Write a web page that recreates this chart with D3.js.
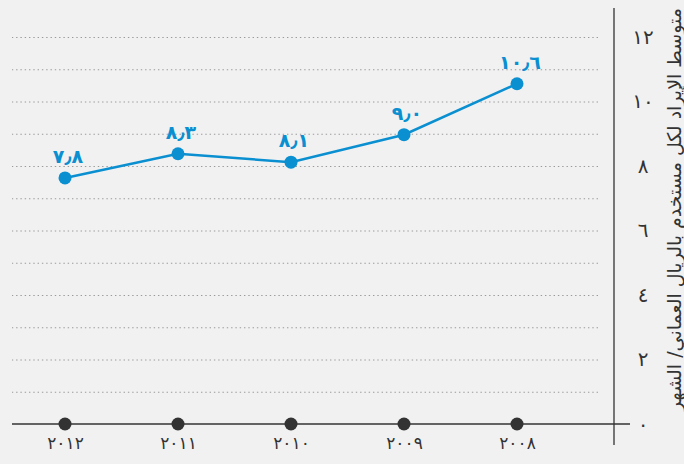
<!DOCTYPE html>
<html lang="ar">
<head>
<meta charset="UTF-8">
<title>متوسط الإيراد لكل مستخدم</title>
<style>
  html, body { margin: 0; height: 100%; background: #f1f1f1; }
  svg { display: block; }
  text { font-family: 'DejaVu Sans', sans-serif; }
  .grid line { stroke: #9a9a9a; stroke-dasharray: 1.4, 2.9; }
  .grid path { display: none; }
</style>
</head>
<body>
<svg id="chart" width="684" height="464" viewBox="0 0 684 464"></svg>
<script src="https://d3js.org/d3.v7.min.js"></script>
<script>
// data
const years = [2012, 2011, 2010, 2009, 2008];
const values = [7.63, 8.38, 8.12, 8.97, 10.55];
const valueLabels = ["٧٫٨", "٨٫٣", "٨٫١", "٩٫٠", "١٠٫٦"];
const yTicks = [0, 2, 4, 6, 8, 10, 12];
const gridTicks = [1, 2, 3, 4, 5, 6, 7, 8, 9, 10, 11, 12];
const yTitle = "متوسط الإيراد لكل مستخدم بالريال العماني/ الشهر";

const arDigits = "٠١٢٣٤٥٦٧٨٩";
const toArabic = s => String(s).replace(/[0-9]/g, d => arDigits[+d]);

const svg = d3.select("#chart");
const x = d3.scaleLinear().domain([2012, 2008]).range([65, 517]);
const y = d3.scaleLinear().domain([0, 12]).range([424, 37]);

const blue = "#0a8fd1", dark = "#333";

// dotted grid
svg.append("g")
  .attr("class", "grid")
  .attr("transform", "translate(598,0)")
  .call(d3.axisLeft(y).tickValues(gridTicks).tickSize(586).tickFormat(""));

// vertical axis line
svg.append("line")
  .attr("x1", 614).attr("x2", 614)
  .attr("y1", 8).attr("y2", 445)
  .attr("stroke", dark).attr("stroke-width", 1.3);

// y tick labels
const yAxis = svg.append("g")
  .attr("transform", "translate(636,0)")
  .call(d3.axisRight(y).tickValues(yTicks).tickSize(0).tickFormat(toArabic));
yAxis.select(".domain").remove();
yAxis.selectAll("text")
  .attr("x", 7)
  .attr("text-anchor", "middle")
  .attr("fill", dark)
  .style("font-size", "20px");

// y title, shrunk until it fits the height
const title = svg.append("text")
  .attr("transform", "translate(675,8) rotate(-90)")
  .attr("text-anchor", "end")
  .attr("dominant-baseline", "middle")
  .attr("fill", dark)
  .style("font-size", "19px")
  .text(yTitle);
let fs = 19;
while (title.node().getComputedTextLength() > 452 && fs > 10) {
  fs -= 0.5;
  title.style("font-size", fs + "px");
}

// baseline
svg.append("line")
  .attr("x1", 12).attr("x2", 630)
  .attr("y1", y(0)).attr("y2", y(0))
  .attr("stroke", dark).attr("stroke-width", 1.5);

// x axis labels
const xAxis = svg.append("g")
  .attr("transform", "translate(0," + y(0) + ")")
  .call(d3.axisBottom(x).tickValues(years).tickSize(0).tickFormat(toArabic));
xAxis.select(".domain").remove();
xAxis.selectAll("text")
  .attr("y", 13)
  .attr("fill", dark)
  .style("font-size", "17px");

svg.append("g").selectAll("circle")
  .data(years)
  .join("circle")
  .attr("cx", d => x(d))
  .attr("cy", y(0))
  .attr("r", 6.5)
  .attr("fill", dark);

// line
const data = years.map((yr, i) => ({ year: yr, value: values[i], label: valueLabels[i] }));
svg.append("path")
  .datum(data)
  .attr("fill", "none")
  .attr("stroke", blue)
  .attr("stroke-width", 2.5)
  .attr("d", d3.line().x(d => x(d.year)).y(d => y(d.value)));

svg.append("g").selectAll("circle")
  .data(data)
  .join("circle")
  .attr("cx", d => x(d.year))
  .attr("cy", d => y(d.value))
  .attr("r", 6.5)
  .attr("fill", blue);

svg.append("g").selectAll("text")
  .data(data)
  .join("text")
  .attr("x", d => x(d.year) + 3)
  .attr("y", d => y(d.value) - 15)
  .attr("text-anchor", "middle")
  .attr("fill", blue)
  .style("font-size", "19px")
  .style("font-weight", "bold")
  .text(d => d.label);
</script>
</body>
</html>
